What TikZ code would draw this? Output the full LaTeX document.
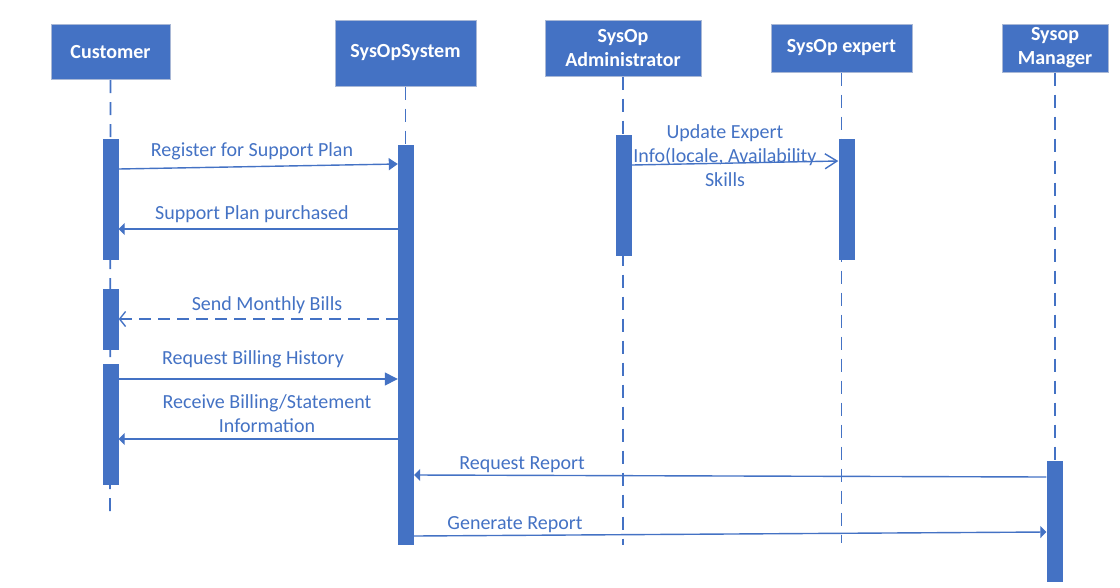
\documentclass[tikz,border=0pt]{standalone}
\usepackage{fontspec}
\setmainfont{Carlito}
\usetikzlibrary{arrows.meta}
\definecolor{umlblue}{HTML}{4472C4}
\definecolor{boxedge}{HTML}{A9B8D6}

\begin{document}
\begin{tikzpicture}[
    x=1pt, y=-1pt,
    actor/.style = {
      shape=rectangle,
      draw=boxedge, line width=1pt,
      fill=umlblue, text=white,
      align=center, inner sep=0pt,
      font=\fontsize{20}{24}\selectfont\bfseries
    },
    bar/.style = {shape=rectangle, fill=umlblue, minimum width=16pt, inner sep=0pt, anchor=north},
    life/.style = {draw=umlblue, line width=1.7pt, dash pattern=on 13pt off 9pt},
    msg/.style = {draw=umlblue, line width=1.4pt, -{Triangle[length=6pt,width=12pt]}},
    bigmsg/.style = {msg, -{Triangle[length=13pt,width=13pt]}},
    openmsg/.style = {draw=umlblue, line width=1.4pt, -{Straight Barb[length=6pt,width=15pt]}},
    lbl/.style = {text=umlblue, align=center, inner sep=0pt, font=\fontsize{20}{24}\selectfont}
  ]
  \useasboundingbox (0,0) rectangle (1120,587);

  % actors
  \node[actor, minimum width=119pt, minimum height=55pt] (cust) at (110.5,52) {Customer};
  \node[actor, minimum width=141pt, minimum height=66pt] (sys) at (405.5,53) {SysOpSystem};
  \node[actor, minimum width=156pt, minimum height=56pt] (admin) at (623,48) {SysOp\\Administrator};
  \node[actor, minimum width=141pt, minimum height=48pt] (expert) at (841.5,48) {SysOp expert};
  \node[actor, minimum width=106pt, minimum height=48pt] (mgr) at (1055,48) {Sysop\\Manager};

  % lifelines
  \coordinate (custend) at (110,511);
  \coordinate (sysend) at (405.5,545);
  \coordinate (adminend) at (623,545);
  \coordinate (expertend) at (841.5,543);
  \coordinate (mgrend) at (1055,582);
  \draw[life] (cust.south) -- (custend);
  \draw[life] (sys.south) -- (sysend);
  \draw[life] (admin.south) -- (adminend);
  \draw[life] (expert.south) -- (expertend);
  \draw[life] (mgr.south) -- (mgrend);

  % activation bars
  \node[bar, minimum height=121pt] (cb1) at (110.5,139) {};
  \node[bar, minimum height=61pt] (cb2) at (110.5,289) {};
  \node[bar, minimum height=121pt] (cb3) at (110.5,364) {};
  \node[bar, minimum height=400pt] (sb) at (406,145) {};
  \node[bar, minimum height=121pt] (ab) at (624,135) {};
  \node[bar, minimum height=121pt] (eb) at (846.5,139) {};
  \node[bar, minimum height=121pt] (mb) at (1054.5,461) {};

  % messages
  \draw[bigmsg, -{Triangle[length=9pt,width=12pt]}] (cb1.east |- 0,169) -- (sb.west |- 0,164);
  \node[lbl] (m1) at (252,151.5) {Register for Support Plan};

  \draw[msg] (sb.west |- 0,229) -- (cb1.east |- 0,229);
  \node[lbl] (m2) at (252,214.5) {Support Plan purchased};

  \draw[openmsg, dash pattern=on 12pt off 7pt] (sb.west |- 0,319) -- (cb2.east |- 0,319);
  \node[lbl] (m3) at (267,305.5) {Send Monthly Bills};

  \draw[bigmsg] (cb3.east |- 0,379) -- (sb.west |- 0,379);
  \node[lbl] (m4) at (253,359.5) {Request Billing History};

  \draw[msg] (sb.west |- 0,439) -- (cb3.east |- 0,439);
  \node[lbl] (m5) at (267,413.5) {Receive Billing/Statement\\Information};

  \draw[openmsg, -{Straight Barb[length=12pt,width=15pt]}] (ab.east |- 0,165) -- (eb.west |- 0,161);
  \node[lbl] (m6) at (725,155.5) {Update Expert\\Info(locale, Availability\\Skills};

  \draw[msg] (mb.west |- 0,477) -- (sb.east |- 0,475);
  \node[lbl] (m7) at (522,464.5) {Request Report};

  \draw[msg] (sb.east |- 0,536) -- (mb.west |- 0,532);
  \node[lbl] (m8) at (515,524.5) {Generate Report};

\end{tikzpicture}
\end{document}
